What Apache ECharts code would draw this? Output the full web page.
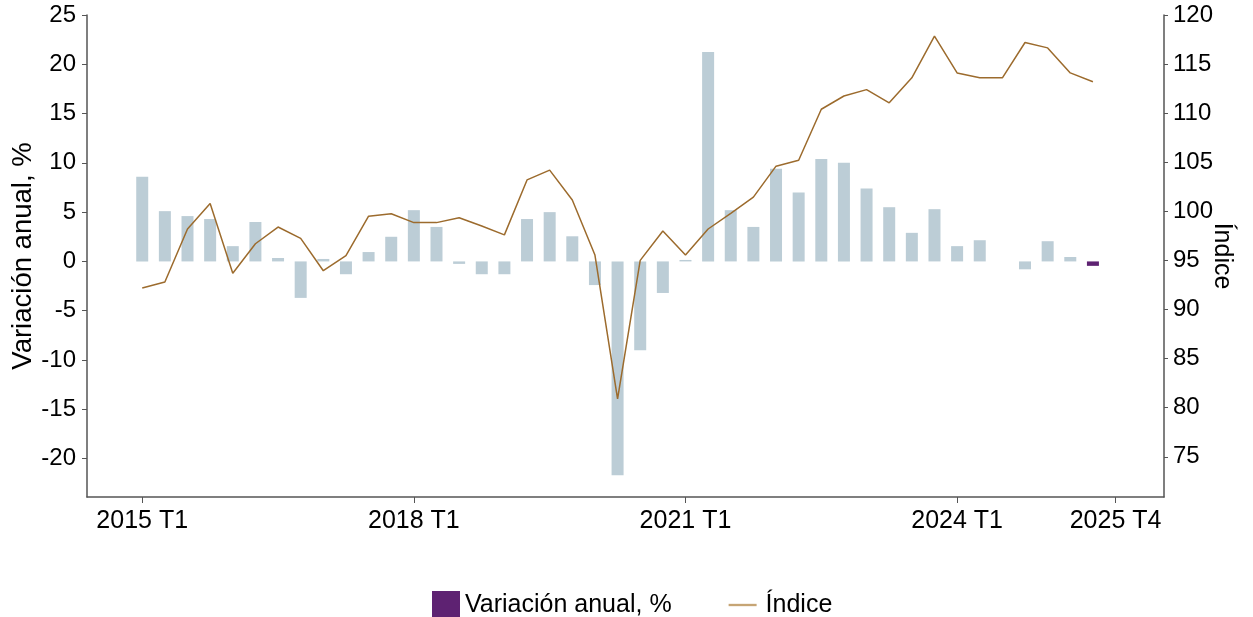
<!DOCTYPE html>
<html>
<head>
<meta charset="utf-8">
<script src="https://cdn.jsdelivr.net/npm/echarts@6/dist/echarts.min.js"></script>
<style>
html,body{margin:0;padding:0;background:#fff;}
#chart{width:1253px;height:617px;}
</style>
</head>
<body>
<div id="chart"></div>
<script>
// Quarter categories 2015 T1 .. 2025 T4
const categories = [];
for (let y = 2015; y <= 2025; y++) for (let q = 1; q <= 4; q++) categories.push(y + ' T' + q);

const tickLabels = ['2015 T1', '2018 T1', '2021 T1', '2024 T1', '2025 T4'];

// Variación anual, %
const variacion = [
  8.6, 5.1, 4.6, 4.3, 1.55, 4.0, 0.35, -3.7, 0.25, -1.3, 0.95, 2.5,
  5.2, 3.5, -0.25, -1.3, -1.3, 4.3, 5.0, 2.55, -2.4, -21.7, -9.0, -3.2,
  0.15, 21.25, 5.2, 3.5, 9.4, 7.0, 10.4, 10.0, 7.4, 5.5, 2.9, 5.3,
  1.55, 2.15, 0.0, -0.8, 2.05, 0.45, -0.45
];

// Índice
const indice = [
  92.2, 92.8, 98.2, 100.8, 93.7, 96.7, 98.4, 97.25, 93.95, 95.5, 99.5, 99.75,
  98.85, 98.85, 99.35, 98.5, 97.6, 103.2, 104.2, 101.15, 95.55, 80.9, 95.0, 98.0,
  95.55, 98.2, 99.8, 101.45, 104.6, 105.2, 110.4, 111.75, 112.4, 111.05, 113.6, 117.85,
  114.1, 113.6, 113.6, 117.2, 116.65, 114.1, 113.2
];

const leftTicks = [-20, -15, -10, -5, 0, 5, 10, 15, 20, 25];
const rightTicks = [75, 80, 85, 90, 95, 100, 105, 110, 115, 120];

const barGrey = '#bccdd6';
const purple = '#5e2272';
const lineColor = '#9c6b2d';
const legendLineColor = '#c6a575';
const axisColor = '#555555';
const font = '"Liberation Sans", Arial, sans-serif';

const lastIdx = variacion.length - 1;
const barData = variacion.map((v, i) =>
  i === lastIdx ? { value: [i, v] } : { value: [i, v], itemStyle: { color: barGrey } }
);
const lineData = indice.map((v, i) => [i, v]);
const xTickValues = tickLabels.map(l => categories.indexOf(l));

const chart = echarts.init(document.getElementById('chart'), null, { renderer: 'canvas' });
chart.setOption({
  animation: false,
  backgroundColor: '#ffffff',
  textStyle: { fontFamily: font },
  grid: { left: 87, right: 89, top: 15, bottom: 120, containLabel: false, outerBoundsMode: 'none' },
  legend: {
    left: 427, top: 586,
    itemWidth: 28, itemHeight: 28, itemGap: 57,
    textStyle: { fontSize: 25, color: '#000', fontFamily: font },
    data: [
      { name: 'Variación anual, %', icon: 'rect' },
      { name: 'Índice', icon: 'path://M0,0 L24,0 L24,2 L0,2 Z', itemStyle: { color: legendLineColor },
        textStyle: { padding: [0, 0, 0, 4] } }
    ]
  },
  xAxis: {
    type: 'value',
    min: -2.44, max: 45.14,
    axisLine: { show: true, onZero: false, lineStyle: { color: axisColor, width: 1.5 } },
    axisTick: { show: true, customValues: xTickValues, length: 6, lineStyle: { color: axisColor } },
    axisLabel: {
      customValues: xTickValues, margin: 12, fontSize: 25, color: '#000', fontFamily: font,
      formatter: v => categories[Math.round(v)]
    },
    splitLine: { show: false }
  },
  yAxis: [
    {
      type: 'value', min: -23.9, max: 25,
      name: 'Variación anual, %', nameLocation: 'middle', nameGap: 50, nameRotate: 90,
      nameMoveOverlap: false,
      nameTextStyle: { fontSize: 27.5, color: '#000', fontFamily: font },
      axisLine: { show: true, onZero: false, lineStyle: { color: axisColor, width: 1.5 } },
      axisTick: { show: true, customValues: leftTicks, length: 5, lineStyle: { color: axisColor } },
      axisLabel: { customValues: leftTicks, margin: 11, fontSize: 24, color: '#000', fontFamily: font },
      splitLine: { show: false }
    },
    {
      type: 'value', min: 70.9, max: 120, position: 'right',
      name: 'Índice', nameLocation: 'middle', nameGap: 45, nameRotate: -90,
      nameMoveOverlap: false,
      nameTextStyle: { fontSize: 25, color: '#000', fontFamily: font },
      axisLine: { show: true, onZero: false, lineStyle: { color: axisColor, width: 1.5 } },
      axisTick: { show: true, customValues: rightTicks, length: 4, lineStyle: { color: axisColor } },
      axisLabel: { customValues: rightTicks, margin: 9, fontSize: 24, color: '#000', fontFamily: font },
      splitLine: { show: false }
    }
  ],
  series: [
    {
      name: 'Variación anual, %', type: 'bar', yAxisIndex: 0,
      barWidth: 12, itemStyle: { color: purple },
      data: barData
    },
    {
      name: 'Índice', type: 'line', yAxisIndex: 1,
      symbol: 'none', showSymbol: false,
      lineStyle: { color: lineColor, width: 1.5 }, itemStyle: { color: lineColor },
      data: lineData
    }
  ]
});
</script>
</body>
</html>
